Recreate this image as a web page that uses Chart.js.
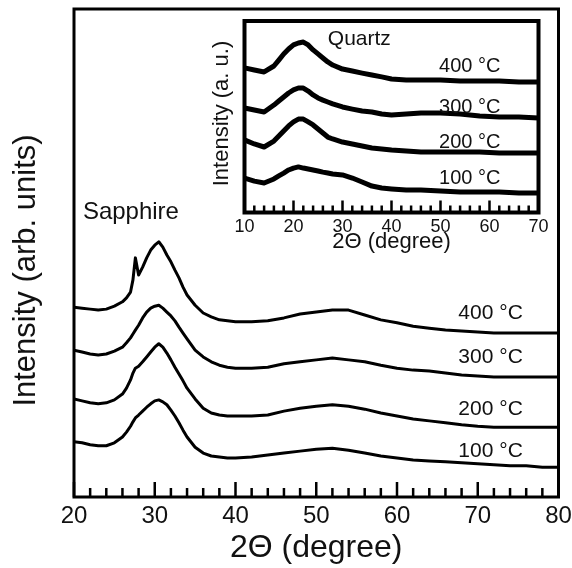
<!DOCTYPE html>
<html>
<head>
<meta charset="utf-8">
<script src="https://cdn.jsdelivr.net/npm/chart.js@4.4.0/dist/chart.umd.min.js"></script>
<style>
  html, body { margin: 0; padding: 0; background: #fff; }
  #wrap { position: relative; width: 572px; height: 568px; }
  #mainChart { position: absolute; left: 0; top: 0; }
  #insetChart { position: absolute; left: 196px; top: 14px; }
</style>
</head>
<body>
<div id="wrap">
  <canvas id="mainChart" width="572" height="568"></canvas>
  <canvas id="insetChart" width="360" height="250"></canvas>
</div>
<script>
const FONT = "'Liberation Sans', Arial, Helvetica, sans-serif";

// sapphire substrate: 2theta (deg) and intensity (arb. units, offset per temperature)
const sapphireTheta = [20, 21, 22, 23, 24, 25, 26, 26.5, 27, 27.3, 27.6, 28, 28.5, 29, 29.5, 30, 30.5, 31, 31.5, 32,
  32.5, 33, 33.5, 34, 35, 36, 37, 38, 39, 40, 42, 44, 46, 48, 50, 52, 54, 56, 58, 60,
  62, 64, 66, 68, 70, 72, 74, 76, 78, 80];
const sapphire400 = [38.9, 38.7, 38.5, 38.3, 38.5, 39.1, 40.0, 40.8, 42.0, 44.5, 49.0, 45.5, 47.1, 49.0, 50.6, 51.6, 52.3, 51.2, 49.6, 48.2,
  46.5, 44.9, 43.0, 41.4, 39.3, 37.7, 36.9, 36.3, 36.1, 35.9, 35.9, 36.1, 36.7, 37.5, 37.9, 38.3, 38.3, 37.3, 36.3, 35.7,
  35.0, 34.6, 34.2, 34.0, 33.8, 33.6, 33.6, 33.6, 33.6, 33.6];
const sapphire300 = [30.1, 29.7, 29.3, 29.1, 29.3, 29.9, 30.7, 31.6, 32.6, 33.4, 34.2, 35.2, 36.7, 37.9, 38.7, 39.1, 39.3, 38.7, 37.9, 37.1,
  36.1, 34.8, 33.6, 32.4, 30.1, 28.7, 27.7, 27.0, 26.6, 26.4, 26.4, 26.6, 27.3, 27.7, 28.1, 28.5, 28.1, 27.7, 27.0, 26.4,
  26.0, 25.8, 25.4, 25.0, 24.8, 24.6, 24.6, 24.6, 24.6, 24.6];
const sapphire200 = [20.1, 19.7, 19.3, 19.1, 19.3, 19.9, 21.1, 22.3, 24.0, 25.4, 26.4, 26.8, 27.7, 28.7, 29.7, 30.7, 31.4, 30.7, 29.5, 28.1,
  26.6, 25.2, 23.8, 22.3, 20.1, 18.2, 17.2, 16.8, 16.6, 16.6, 16.6, 16.8, 17.6, 18.2, 18.6, 18.9, 18.6, 18.0, 17.2, 16.6,
  16.0, 15.6, 15.2, 14.8, 14.5, 14.3, 14.3, 14.3, 14.3, 14.3];
const sapphire100 = [11.3, 11.1, 10.7, 10.5, 10.5, 11.1, 12.3, 13.3, 14.5, 15.4, 16.2, 16.8, 17.6, 18.4, 19.1, 19.7, 19.9, 19.5, 18.9, 17.8,
  16.6, 15.2, 13.7, 12.3, 10.2, 9.0, 8.4, 8.2, 8.0, 8.0, 8.2, 8.6, 9.0, 9.4, 9.8, 10.0, 9.6, 9.0, 8.4, 8.0,
  7.6, 7.4, 7.2, 7.0, 6.8, 6.6, 6.4, 6.4, 6.1, 6.1];
const sapphireTicks = [20, 30, 40, 50, 60, 70, 80];

// quartz substrate (inset)
const quartzTheta = [10, 12, 14, 16, 17, 18, 19, 20, 21, 22, 23, 24, 25, 26, 27, 28, 30, 32, 34, 36,
  38, 40, 43, 46, 50, 54, 58, 62, 66, 70];
const quartz400 = [75.5, 74.4, 73.4, 76.5, 79.6, 82.8, 85.4, 87.5, 88.5, 89.0, 87.5, 84.9, 82.8, 80.7, 78.6, 77.0, 74.9, 73.9, 72.8, 71.8,
  70.8, 69.7, 69.2, 69.2, 69.2, 68.7, 68.7, 68.7, 68.1, 68.1];
const quartz300 = [54.6, 53.5, 52.5, 56.1, 58.2, 60.3, 62.4, 64.0, 65.0, 65.0, 63.4, 61.4, 59.8, 58.7, 57.7, 56.7, 55.1, 54.0, 53.0, 52.5,
  51.4, 50.9, 51.4, 52.0, 52.0, 51.4, 50.4, 49.9, 49.9, 49.3];
const quartz200 = [37.9, 35.8, 34.2, 37.3, 39.9, 42.6, 45.2, 47.3, 48.8, 48.8, 47.3, 45.7, 43.6, 41.5, 39.4, 38.4, 36.8, 35.8, 34.7, 33.7,
  33.2, 32.6, 32.1, 31.6, 31.6, 31.6, 31.6, 31.1, 31.1, 31.1];
const quartz100 = [18.0, 16.4, 15.4, 17.5, 19.1, 20.6, 22.2, 23.2, 23.8, 23.2, 22.7, 22.2, 21.7, 21.1, 20.6, 20.1, 19.6, 18.0, 15.9, 13.8,
  12.8, 12.3, 11.7, 11.7, 11.2, 10.7, 10.7, 10.7, 10.2, 10.2];
const quartzTicks = [10, 20, 30, 40, 50, 60, 70];

const tempLabels = ['100 °C', '200 °C', '300 °C', '400 °C'];

function points(theta, values) {
  return theta.map((t, i) => ({ x: t, y: values[i] }));
}

// closed frame, inward ticks on the bottom axis, free text and the rotated y title
const boxAxes = {
  id: 'boxAxes',
  afterDatasetsDraw(chart, args, o) {
    const { ctx, chartArea: a, scales: { x, y } } = chart;
    ctx.save();
    ctx.strokeStyle = '#000';
    ctx.lineWidth = o.tickWidth;
    ctx.beginPath();
    for (let v = x.min; v <= x.max; v += o.minorStep) {
      const px = x.getPixelForValue(v);
      const len = o.majors.includes(v) ? o.majorLen : o.minorLen;
      ctx.moveTo(px, a.bottom);
      ctx.lineTo(px, a.bottom - len);
    }
    ctx.stroke();
    ctx.lineWidth = o.frameWidth;
    ctx.strokeRect(a.left, a.top, a.right - a.left, a.bottom - a.top);

    ctx.fillStyle = '#111';
    ctx.textAlign = 'left';
    ctx.textBaseline = 'alphabetic';
    o.notes.forEach(n => {
      ctx.font = n.size + 'px ' + FONT;
      ctx.fillText(n.text, x.getPixelForValue(n.x), y.getPixelForValue(n.y));
    });

    const t = o.yTitle;
    ctx.translate(t.x, t.y);
    ctx.rotate(-Math.PI / 2);
    ctx.textAlign = 'center';
    ctx.font = t.size + 'px ' + FONT;
    ctx.fillText(t.text, 0, 0);
    ctx.restore();
  }
};

function lineSet(theta, values, width) {
  return {
    data: points(theta, values),
    borderColor: '#000',
    borderWidth: width,
    borderJoinStyle: 'round',
    pointRadius: 0,
    tension: 0,
    fill: false
  };
}

// keep the end labels from pulling the plot area inwards
function fixAxis(height) {
  return s => {
    s.height = height;
    s.paddingLeft = 0;
    s.paddingRight = 0;
  };
}

// main panel: sapphire
new Chart(document.getElementById('mainChart'), {
  type: 'line',
  data: {
    datasets: [sapphire100, sapphire200, sapphire300, sapphire400].map(s => lineSet(sapphireTheta, s, 3))
  },
  options: {
    responsive: false,
    animation: false,
    devicePixelRatio: 1,
    layout: { padding: { left: 74, right: 13.5, top: 9, bottom: 0 } },
    plugins: {
      legend: { display: false },
      tooltip: { enabled: false },
      boxAxes: {
        tickWidth: 2.5, minorStep: 2, majors: sapphireTicks, majorLen: 15, minorLen: 9, frameWidth: 3,
        notes: [
          { text: 'Sapphire', x: 21.1, y: 57.0, size: 24 },
          { text: tempLabels[3], x: 67.6, y: 36.5, size: 21 },
          { text: tempLabels[2], x: 67.6, y: 27.5, size: 21 },
          { text: tempLabels[1], x: 67.6, y: 16.8, size: 21 },
          { text: tempLabels[0], x: 67.6, y: 8.2, size: 21 }
        ],
        yTitle: { text: 'Intensity (arb. units)', x: 35, y: 270.5, size: 31 }
      }
    },
    scales: {
      x: {
        type: 'linear', min: 20, max: 80,
        grid: { display: false, drawTicks: false },
        border: { display: false },
        afterBuildTicks: s => { s.ticks = sapphireTicks.map(v => ({ value: v })); },
        ticks: { color: '#111', font: { family: FONT, size: 24 }, padding: 5.3, maxRotation: 0, autoSkip: false },
        title: { display: true, text: '2Θ (degree)', color: '#111', font: { family: FONT, size: 32 }, padding: { top: 0, bottom: 1 } },
        afterFit: fixAxis(71)
      },
      y: { display: false, min: 0, max: 100 }
    }
  },
  plugins: [boxAxes]
});

// inset: quartz
new Chart(document.getElementById('insetChart'), {
  type: 'line',
  data: {
    datasets: [quartz100, quartz200, quartz300, quartz400].map(s => lineSet(quartzTheta, s, 5))
  },
  options: {
    responsive: false,
    animation: false,
    devicePixelRatio: 1,
    layout: { padding: { left: 48.5, right: 17.5, top: 7, bottom: 0 } },
    plugins: {
      legend: { display: false },
      tooltip: { enabled: false },
      boxAxes: {
        tickWidth: 2.5, minorStep: 2, majors: quartzTicks, majorLen: 12, minorLen: 7, frameWidth: 4,
        notes: [
          { text: 'Quartz', x: 27.0, y: 87.5, size: 21 },
          { text: tempLabels[3], x: 49.7, y: 73.4, size: 20 },
          { text: tempLabels[2], x: 49.7, y: 52.0, size: 20 },
          { text: tempLabels[1], x: 49.7, y: 33.7, size: 20 },
          { text: tempLabels[0], x: 49.7, y: 14.9, size: 20 }
        ],
        yTitle: { text: 'Intensity (a. u.)', x: 32.3, y: 99.5, size: 22 }
      }
    },
    scales: {
      x: {
        type: 'linear', min: 10, max: 70,
        grid: { display: false, drawTicks: false },
        border: { display: false },
        afterBuildTicks: s => { s.ticks = quartzTicks.map(v => ({ value: v })); },
        ticks: { color: '#111', font: { family: FONT, size: 18 }, padding: 3.8, maxRotation: 0, autoSkip: false },
        title: { display: true, text: '2Θ (degree)', color: '#111', font: { family: FONT, size: 22 }, padding: { top: 0, bottom: 8.5 } },
        afterFit: fixAxis(51.5)
      },
      y: { display: false, min: 0, max: 100 }
    }
  },
  plugins: [boxAxes]
});
</script>
</body>
</html>
